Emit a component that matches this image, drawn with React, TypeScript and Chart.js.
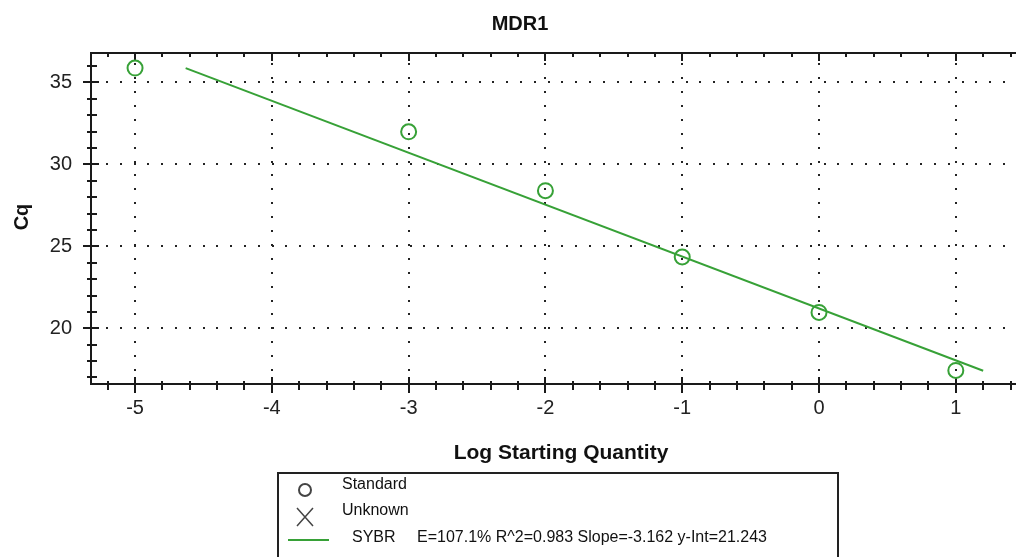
import { useEffect, useRef } from "react";
import { Chart, registerables } from "chart.js";

Chart.register(...registerables);

const chartTitle = "MDR1";
const xAxisTitle = "Log Starting Quantity";
const yAxisTitle = "Cq";
const logQuantity = [-5, -3, -2, -1, 0, 1];
const cqValues = [35.88, 31.99, 28.4, 24.35, 20.97, 17.43];
const fitX = [-4.63, 1.2];
const fitY = [35.88, 17.41];
const xTicks = [-5, -4, -3, -2, -1, 0, 1];
const yTicks = [20, 25, 30, 35];
const legendLabels = ["Standard", "Unknown", "SYBR"];
const fitStats = "E=107.1% R^2=0.983 Slope=-3.162 y-Int=21.243";

const GREEN = "#37a137";
const FONT = "'Liberation Sans', Arial, sans-serif";

const framePlugin = {
  id: "frame",
  beforeDatasetsDraw(chart: any) {
    const { ctx, chartArea: a, scales } = chart;
    const x = scales.x;
    const y = scales.y;
    ctx.save();
    // dotted grid
    ctx.fillStyle = "#222";
    for (const v of yTicks) {
      const py = Math.round(y.getPixelForValue(v));
      for (let px = a.left + 16; px < a.right; px += 13.8) {
        ctx.fillRect(Math.round(px) - 1, py - 1, 2, 2);
      }
    }
    for (const v of xTicks) {
      const px = Math.round(x.getPixelForValue(v));
      for (let py = a.bottom - 14; py > a.top + 4; py -= 13.9) {
        ctx.fillRect(px - 1, Math.round(py) - 1, 2, 2);
      }
    }
    // axes
    ctx.strokeStyle = "#1a1a1a";
    ctx.lineWidth = 2;
    ctx.beginPath();
    ctx.moveTo(a.left, a.top);
    ctx.lineTo(a.left, a.bottom);
    ctx.lineTo(a.right, a.bottom);
    ctx.moveTo(a.left - 1, a.top);
    ctx.lineTo(a.right, a.top);
    // y ticks
    for (let v = Math.ceil(y.min); v <= y.max; v++) {
      const py = Math.round(y.getPixelForValue(v));
      const major = v % 5 === 0;
      ctx.moveTo(a.left - (major ? 8 : 4), py);
      ctx.lineTo(a.left + (major ? 8 : 6), py);
    }
    // x ticks, bottom and top
    for (let i = Math.ceil(x.min * 5); i <= Math.floor(x.max * 5); i++) {
      const px = Math.round(x.getPixelForValue(i / 5));
      const major = i % 5 === 0;
      ctx.moveTo(px, a.bottom - (major ? 7 : 3));
      ctx.lineTo(px, a.bottom + (major ? 9 : 6));
      ctx.moveTo(px, a.top);
      ctx.lineTo(px, a.top + (major ? 8 : 4));
    }
    ctx.stroke();
    ctx.restore();
  },
  afterDraw(chart: any) {
    const { ctx } = chart;
    ctx.save();
    ctx.fillStyle = "#111";
    ctx.textBaseline = "middle";
    ctx.textAlign = "center";
    ctx.font = `bold 20px ${FONT}`;
    ctx.fillText(chartTitle, 520, 24);
    ctx.font = `bold 21px ${FONT}`;
    ctx.fillText(xAxisTitle, 561, 453);
    ctx.save();
    ctx.translate(22, 217);
    ctx.rotate(-Math.PI / 2);
    ctx.font = `bold 20px ${FONT}`;
    ctx.fillText(yAxisTitle, 0, 0);
    ctx.restore();

    // legend box
    ctx.strokeStyle = "#222";
    ctx.lineWidth = 2;
    ctx.strokeRect(278, 473, 560, 100);
    // circle symbol
    ctx.strokeStyle = "#444";
    ctx.beginPath();
    ctx.arc(305, 490, 6, 0, Math.PI * 2);
    ctx.stroke();
    // X symbol
    ctx.lineWidth = 1.5;
    ctx.beginPath();
    ctx.moveTo(297, 508);
    ctx.lineTo(313, 526);
    ctx.moveTo(313, 508);
    ctx.lineTo(297, 526);
    ctx.stroke();
    // line symbol
    ctx.strokeStyle = GREEN;
    ctx.lineWidth = 2;
    ctx.beginPath();
    ctx.moveTo(288, 540);
    ctx.lineTo(329, 540);
    ctx.stroke();
    ctx.textAlign = "left";
    ctx.font = `16px ${FONT}`;
    ctx.fillStyle = "#111";
    ctx.fillText(legendLabels[0], 342, 485);
    ctx.fillText(legendLabels[1], 342, 511);
    ctx.fillText(legendLabels[2], 352, 538);
    ctx.fillText(fitStats, 417, 538);
    ctx.restore();
  },
};

export default function App() {
  const ref = useRef<HTMLCanvasElement | null>(null);
  useEffect(() => {
    document.body.style.margin = "0";
    const canvas = ref.current;
    if (!canvas) return;
    const chart = new Chart(canvas, {
      type: "scatter",
      data: {
        datasets: [
          {
            label: "Standard",
            data: logQuantity.map((v, i) => ({ x: v, y: cqValues[i] })),
            pointStyle: "circle",
            pointRadius: 7.5,
            pointBorderWidth: 2,
            borderColor: GREEN,
            backgroundColor: "rgba(0,0,0,0)",
            showLine: false,
          },
          {
            label: "SYBR",
            data: fitX.map((v, i) => ({ x: v, y: fitY[i] })),
            showLine: true,
            pointRadius: 0,
            borderColor: GREEN,
            borderWidth: 2,
            backgroundColor: GREEN,
          },
        ],
      },
      options: {
        animation: false,
        responsive: false,
        devicePixelRatio: 1,
        layout: { autoPadding: false, padding: { top: 53, left: 0, right: 0, bottom: 0 } },
        plugins: {
          legend: { display: false },
          title: { display: false },
          tooltip: { enabled: false },
        },
        scales: {
          x: {
            type: "linear",
            min: -5.322,
            max: 1.44,
            grid: { display: false, drawTicks: false },
            border: { display: false },
            afterBuildTicks: (s: any) => {
              s.ticks = xTicks.map((v) => ({ value: v }));
            },
            afterFit: (s: any) => {
              s.height = 173;
              s.paddingLeft = 0;
              s.paddingRight = 0;
            },
            ticks: {
              padding: 12,
              color: "#222",
              font: { family: FONT, size: 20 },
              maxRotation: 0,
              autoSkip: false,
            },
          },
          y: {
            type: "linear",
            min: 16.6,
            max: 36.8,
            grid: { display: false, drawTicks: false },
            border: { display: false },
            afterBuildTicks: (s: any) => {
              s.ticks = yTicks.map((v) => ({ value: v }));
            },
            afterFit: (s: any) => {
              s.width = 91;
              s.paddingTop = 0;
              s.paddingBottom = 0;
            },
            ticks: {
              padding: 19,
              color: "#222",
              font: { family: FONT, size: 20 },
              autoSkip: false,
            },
          },
        },
      },
      plugins: [framePlugin],
    });
    return () => chart.destroy();
  }, []);
  return <canvas ref={ref} width={1016} height={557} style={{ display: "block" }} />;
}
